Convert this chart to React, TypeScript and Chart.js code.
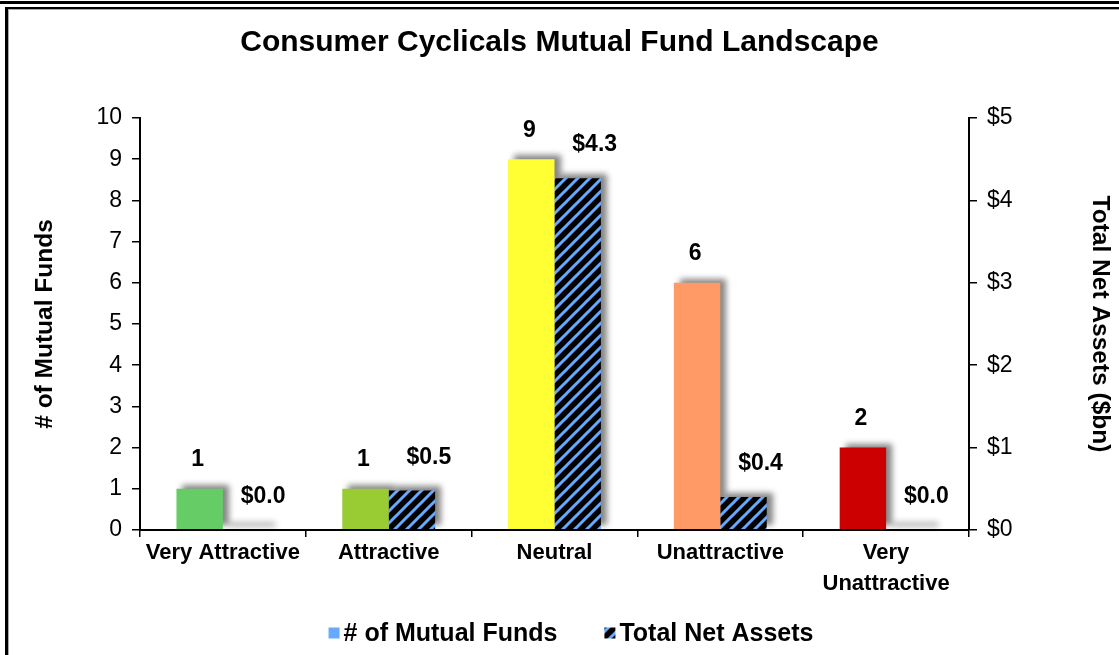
import React, { useEffect, useRef } from 'react';
import { Chart, registerables } from 'chart.js';

Chart.register(...registerables);

// ---- data ----
const categories: (string | string[])[] = ['Very Attractive', 'Attractive', 'Neutral', 'Unattractive', ['Very', 'Unattractive']];
const fundCounts = [1, 1, 9, 6, 2];
const netAssetsBn = [0.0, 0.48, 4.27, 0.4, 0.0];
const ratingColors = ['#66cc66', '#99cc33', '#ffff33', '#ff9966', '#cc0000'];
const seriesNames = ['# of Mutual Funds', 'Total Net Assets'];
const chartTitle = 'Consumer Cyclicals Mutual Fund Landscape';
const leftAxisTitle = '# of Mutual Funds';
const rightAxisTitle = 'Total Net Assets ($bn)';
const leftAxisMax = 10;
const rightAxisMax = 5;

// ---- layout / style ----
const W = 1119;
const H = 655;
const FONT = "'Liberation Sans', Arial, Helvetica, sans-serif";
const BLUE = '#66aaff';
const PLOT_TOP = 118;
const PLOT_BOTTOM = 530;
const PLOT_LEFT = 140;
const PLOT_RIGHT = 969;
const TITLE_SIZE = 30;
const TITLE_PAD_TOP = 25;
const LEGEND_Y = 633;
const LEGEND_CENTER_X = 571;

function makeHatch(): CanvasPattern | string {
  const s = 12;
  const c = document.createElement('canvas');
  c.width = s;
  c.height = s;
  const g = c.getContext('2d');
  if (!g) return '#000';
  g.fillStyle = '#000';
  g.fillRect(0, 0, s, s);
  g.strokeStyle = BLUE;
  g.lineWidth = 3;
  for (const k of [-1, 0, 1]) {
    g.beginPath();
    g.moveTo(k * s - 2, s + 2);
    g.lineTo(k * s + s + 2, -2);
    g.stroke();
  }
  return g.createPattern(c, 'repeat') || '#000';
}

const shadowPlugin = {
  id: 'barShadow',
  beforeDatasetsDraw(chart: any) {
    const ctx: CanvasRenderingContext2D = chart.ctx;
    const off = 10000;
    ctx.save();
    ctx.shadowColor = 'rgba(0,0,0,0.48)';
    ctx.shadowBlur = 6;
    ctx.shadowOffsetX = off + 6;
    ctx.shadowOffsetY = -4;
    ctx.fillStyle = '#000';
    chart.data.datasets.forEach((_ds: any, i: number) => {
      const meta = chart.getDatasetMeta(i);
      meta.data.forEach((bar: any) => {
        const p = bar.getProps(['x', 'y', 'base', 'width'], true);
        let top = Math.min(p.y, p.base);
        let h = Math.abs(p.base - p.y);
        if (h < 3) {
          h = 3;
          top = p.base - 3;
        }
        ctx.fillRect(p.x - p.width / 2 - off, top, p.width, h);
      });
    });
    ctx.restore();
  },
};

const labelPlugin = {
  id: 'valueLabels',
  afterDatasetsDraw(chart: any) {
    const ctx: CanvasRenderingContext2D = chart.ctx;
    ctx.save();
    ctx.font = `bold 23px ${FONT}`;
    ctx.fillStyle = '#000';
    ctx.textAlign = 'center';
    ctx.textBaseline = 'middle';
    chart.data.datasets.forEach((ds: any, i: number) => {
      const meta = chart.getDatasetMeta(i);
      meta.data.forEach((bar: any, j: number) => {
        const p = bar.getProps(['x', 'y', 'base'], true);
        const top = Math.min(p.y, p.base);
        const v = ds.data[j] as number;
        if (i === 0) {
          ctx.fillText(String(v), p.x - 2, top - 29);
        } else {
          ctx.fillText('$' + v.toFixed(1), p.x + 17, top - 33);
        }
      });
    });
    ctx.restore();
  },
};

function makeLegendPlugin(hatch: CanvasPattern | string) {
  return {
    id: 'seriesLegend',
    afterDraw(chart: any) {
      const ctx: CanvasRenderingContext2D = chart.ctx;
      ctx.save();
      ctx.font = `bold 25px ${FONT}`;
      ctx.textAlign = 'left';
      ctx.textBaseline = 'middle';
      const items = [
        { text: seriesNames[0], fill: BLUE as any },
        { text: seriesNames[1], fill: hatch as any },
      ];
      const box = 11;
      const gapBox = 4;
      const gapItem = 47;
      const widths = items.map((it) => box + gapBox + ctx.measureText(it.text).width);
      const total = widths[0] + gapItem + widths[1];
      let x = LEGEND_CENTER_X - total / 2;
      items.forEach((it, i) => {
        ctx.fillStyle = it.fill;
        ctx.fillRect(x, LEGEND_Y - box / 2, box, box);
        ctx.fillStyle = '#000';
        ctx.fillText(it.text, x + box + gapBox, LEGEND_Y + 1);
        x += widths[i] + gapItem;
      });
      ctx.restore();
    },
  };
}

export default function App() {
  const ref = useRef<HTMLCanvasElement | null>(null);

  useEffect(() => {
    document.body.style.margin = '0';
    const canvas = ref.current;
    if (!canvas) return;
    const hatch = makeHatch();
    const tickFont = { family: FONT, size: 23 };
    const axisTitleFont = { family: FONT, size: 24.5, weight: 'bold' as const };
    const gridCommon = {
      display: true,
      drawOnChartArea: false,
      drawTicks: true,
      tickLength: 8,
      color: '#000',
      lineWidth: 1.5,
    };
    const borderCommon = { display: true, color: '#000', width: 2, z: 1 };
    const titleLineHeight = TITLE_SIZE * 1.2;

    const chart = new Chart(canvas, {
      type: 'bar',
      data: {
        labels: categories as any,
        datasets: [
          {
            label: seriesNames[0],
            data: fundCounts,
            backgroundColor: ratingColors,
            borderWidth: 0,
            yAxisID: 'y',
          },
          {
            label: seriesNames[1],
            data: netAssetsBn,
            backgroundColor: hatch as any,
            borderWidth: 0,
            yAxisID: 'y1',
          },
        ],
      },
      options: {
        responsive: false,
        animation: false,
        devicePixelRatio: 1,
        layout: { padding: { left: 0, right: 0, top: 0, bottom: 0 } },
        datasets: { bar: { categoryPercentage: 0.56, barPercentage: 1 } },
        plugins: {
          title: {
            display: true,
            text: chartTitle,
            color: '#000',
            font: { family: FONT, size: TITLE_SIZE, weight: 'bold', lineHeight: 1.2 },
            padding: { top: TITLE_PAD_TOP, bottom: PLOT_TOP - TITLE_PAD_TOP - titleLineHeight },
          },
          legend: { display: false },
          tooltip: { enabled: false },
        },
        scales: {
          x: {
            offset: true,
            grid: { ...gridCommon, tickLength: 7, offset: true },
            border: borderCommon,
            ticks: {
              color: '#000',
              font: { family: FONT, size: 22, weight: 'bold', lineHeight: 1.4 },
              padding: 1,
              maxRotation: 0,
              minRotation: 0,
              autoSkip: false,
            },
            afterFit: (s: any) => {
              s.height = H - PLOT_BOTTOM;
            },
          },
          y: {
            position: 'left',
            min: 0,
            max: leftAxisMax,
            grid: gridCommon,
            border: borderCommon,
            ticks: { stepSize: 1, color: '#000', font: tickFont, padding: 10 },
            title: { display: true, text: leftAxisTitle, color: '#000', font: axisTitleFont, padding: { top: 31, bottom: 0 } },
            afterFit: (s: any) => {
              s.width = PLOT_LEFT;
            },
          },
          y1: {
            position: 'right',
            min: 0,
            max: rightAxisMax,
            grid: gridCommon,
            border: borderCommon,
            ticks: {
              stepSize: 1,
              color: '#000',
              font: tickFont,
              padding: 10,
              callback: (v: any) => '$' + v,
            },
            title: { display: true, text: rightAxisTitle, color: '#000', font: axisTitleFont, padding: { top: 5, bottom: 0 } },
            afterFit: (s: any) => {
              s.width = W - PLOT_RIGHT;
            },
          },
        },
      } as any,
      plugins: [shadowPlugin, labelPlugin, makeLegendPlugin(hatch)],
    });
    return () => chart.destroy();
  }, []);

  return (
    <div style={{ position: 'relative', width: W, height: H, overflow: 'hidden', background: '#fff' }}>
      <canvas ref={ref} width={W} height={H} style={{ display: 'block' }} />
      <div style={{ position: 'absolute', left: 0, top: 1, width: W, height: 3, background: '#000' }} />
      <div
        style={{
          position: 'absolute',
          left: 5,
          top: 7,
          width: W + 50,
          height: H + 50,
          borderTop: '2px solid #000',
          borderLeft: '3px solid #000',
          boxShadow: 'inset 1px 1px 0 #aaa',
          pointerEvents: 'none',
        }}
      />
    </div>
  );
}
